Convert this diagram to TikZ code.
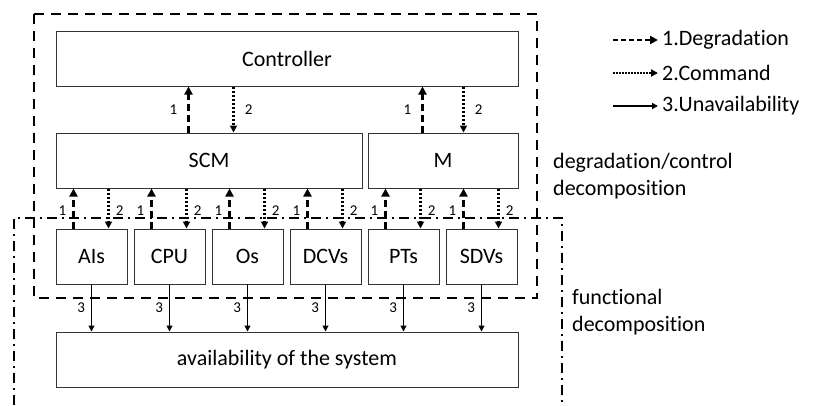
\documentclass[tikz,border=0pt]{standalone}
\usepackage{fontspec}
\setmainfont[Ligatures=NoCommon]{Carlito}
\usetikzlibrary{arrows.meta}

\begin{document}
\begin{tikzpicture}[x=1pt,y=-1pt,
    box/.style={draw=black!80, line width=1pt, minimum height=55pt, inner sep=0pt, font=\fontsize{22}{26}\selectfont},
    lbl/.style={font=\fontsize{15}{17}\selectfont, inner sep=1pt},
    txt/.style={font=\fontsize{22}{27}\selectfont, align=left, anchor=west, inner sep=0pt},
    degr/.style={line width=2.5pt, dash pattern=on 7pt off 4pt, -{Triangle[length=8pt,width=8pt]}},
    cmd/.style={line width=2.5pt, dash pattern=on 2pt off 2pt, -{Triangle[length=7pt,width=7pt]}},
    unav/.style={line width=1pt, -{Triangle[length=6pt,width=6pt]}}]
  \useasboundingbox (0,0) rectangle (819,405);

  % decomposition borders
  \draw [line width=2.5pt, dash pattern=on 10pt off 7pt] (34,14) rectangle (537,298);
  \draw [line width=2.5pt, dash pattern=on 10pt off 5pt on 2pt off 5pt] (14,405) -- (14,218) -- (562,218) -- (562,405);

  % boxes
  \node [box, minimum width=462pt] (controller) at (287,58.5) {Controller};
  \node [box, minimum width=306pt] (scm) at (209,160.5) {SCM};
  \node [box, minimum width=150pt] (m) at (443,160.5) {M};
  \foreach \name/\txt [count=\i from 0] in {ais/AIs,cpu/CPU,os/Os,dcvs/DCVs,pts/PTs,sdvs/SDVs}
    \node [box, minimum width=71pt] (\name) at (91.5+78*\i,256.5) {\txt};
  \node [box, minimum width=462pt] (avail) at (287,359.5) {availability of the system};

  % controller links
  \draw [degr] ([xshift=133pt]scm.north west) -- ([xshift=133pt]controller.south west)
    node [lbl, midway, left=9pt] {1};
  \draw [cmd] ([xshift=178pt]controller.south west) -- ([xshift=178pt]scm.north west)
    node [lbl, midway, right=9pt] {2};
  \draw [degr] ([xshift=55pt]m.north west) -- ([xshift=367pt]controller.south west)
    node [lbl, midway, left=9pt] {1};
  \draw [cmd] ([xshift=408pt]controller.south west) -- ([xshift=96pt]m.north west)
    node [lbl, midway, right=9pt] {2};

  % component links
  \foreach \name/\up in {ais/scm,cpu/scm,os/scm,dcvs/scm,pts/m,sdvs/m}{
    \coordinate (\name-up) at ([xshift=18pt]\name.north west);
    \coordinate (\name-dn) at ([xshift=53pt]\name.north west);
    \draw [degr] (\name-up) -- (\name-up |- \up.south)
      node [lbl, pos=0.45, left=5pt] {1};
    \draw [cmd] (\name-dn |- \up.south) -- (\name-dn)
      node [lbl, pos=0.55, right=5pt] {2};
    \draw [unav] (\name.south) -- (\name.south |- avail.north)
      node [lbl, midway, left=5pt] {3};
  }

  % legend
  \node [txt] (deg) at (662,40) {1.Degradation};
  \node [txt] (com) at (662,73) {2.Command};
  \node [txt] (una) at (662,106) {3.Unavailability};
  \coordinate (degs) at (613,40);
  \coordinate (coms) at (613,73);
  \coordinate (unas) at (613,106);
  \draw [degr, line width=2pt, dash pattern=on 5pt off 3pt] (degs) -- ([xshift=-4pt]deg.west);
  \draw [cmd, line width=2pt, dash pattern=on 1.5pt off 1.5pt] (coms) -- ([xshift=-4pt]com.west);
  \draw [unav, line width=2pt] (unas) -- ([xshift=-4pt]una.west);

  \node [txt] (dcdec) at (553,176) {degradation/control\\decomposition};
  \node [txt] (fdec) at (572,312) {functional\\decomposition};
\end{tikzpicture}
\end{document}
